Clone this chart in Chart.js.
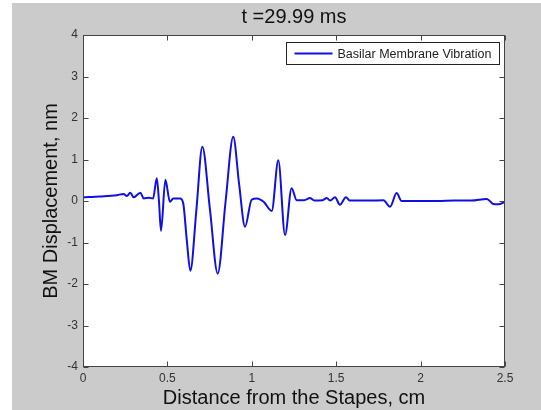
<!DOCTYPE html>
<html>
<head>
<meta charset="utf-8">
<script src="https://cdn.jsdelivr.net/npm/chart.js@4.4.0/dist/chart.umd.min.js"></script>
<style>
html, body { margin: 0; padding: 0; background: #fff; }
#wrap { width: 541px; height: 410px; }
</style>
</head>
<body>
<div id="wrap"><canvas id="bm" width="541" height="410"></canvas></div>
<script>
// values
const distanceCm = [0, 0.1, 0.2, 0.24, 0.26, 0.28, 0.30, 0.34, 0.36, 0.39, 0.415, 0.437, 0.45, 0.462, 0.488, 0.515, 0.535, 0.575, 0.594, 0.615, 0.636, 0.672, 0.707, 0.752, 0.798, 0.845, 0.89, 0.925, 0.96, 0.999, 1.03, 1.07, 1.118, 1.157, 1.197, 1.236, 1.266, 1.31, 1.345, 1.37, 1.42, 1.444, 1.465, 1.493, 1.522, 1.558, 1.58, 1.70, 1.78, 1.819, 1.858, 1.888, 1.92, 2.0, 2.1, 2.2, 2.3, 2.392, 2.43, 2.46, 2.5];
const displacementNm = [0.09, 0.11, 0.14, 0.17, 0.12, 0.20, 0.09, 0.20, 0.06, 0.08, 0.06, 0.55, 0.0, -0.72, 0.51, -0.02, 0.06, 0.06, -0.06, -0.95, -1.68, -0.2, 1.31, -0.2, -1.75, 0.0, 1.55, 0.4, -0.62, 0.03, 0.06, -0.02, -0.24, 0.98, -0.82, 0.31, 0.02, 0.02, 0.07, 0.01, 0.02, 0.07, 0.01, 0.09, -0.09, 0.09, 0.01, 0.01, 0.02, -0.14, 0.19, 0.0, 0.0, 0.0, 0.0, 0.01, 0.01, 0.05, -0.07, -0.08, -0.02];
const xTickValues = [0, 0.5, 1, 1.5, 2, 2.5];
const xTickLabels = ['0', '0.5', '1', '1.5', '2', '2.5'];
const yTickValues = [-4, -3, -2, -1, 0, 1, 2, 3, 4];
const yTickLabels = ['-4', '-3', '-2', '-1', '0', '1', '2', '3', '4'];
const seriesName = 'Basilar Membrane Vibration';
const chartTitle = 't =29.99 ms';

const FONT = "'Liberation Sans', Arial, sans-serif";
const lineColor = '#1010e6';

const frame = {
    id: 'frame',
    beforeDraw(chart) {
        const { ctx, width, height, chartArea: a } = chart;
        ctx.save();
        ctx.fillStyle = '#fff';
        ctx.fillRect(0, 0, width, height);
        ctx.fillStyle = '#cbcbcb';
        ctx.fillRect(12, 3, width - 12, height - 3);
        ctx.fillStyle = '#fff';
        ctx.fillRect(a.left, a.top, a.right - a.left, a.bottom - a.top);
        ctx.restore();
    },
    afterDraw(chart) {
        const { ctx, chartArea: a, scales } = chart;
        ctx.save();
        // title over the axes centre
        ctx.fillStyle = '#111';
        ctx.font = '20px ' + FONT;
        ctx.textAlign = 'center';
        ctx.textBaseline = 'middle';
        ctx.fillText(chartTitle, (a.left + a.right) / 2, 17);
        ctx.textAlign = 'left';

        ctx.strokeStyle = '#444';
        ctx.lineWidth = 1;
        const L = Math.round(a.left) + 0.5, R = Math.round(a.right) - 0.5;
        const T = Math.round(a.top) + 0.5, B = Math.round(a.bottom) - 0.5;
        ctx.strokeRect(L, T, R - L, B - T);
        ctx.beginPath();
        xTickValues.forEach(v => {
            const px = Math.round(scales.x.getPixelForValue(v)) + 0.5;
            ctx.moveTo(px, B); ctx.lineTo(px, B - 5);
            ctx.moveTo(px, T); ctx.lineTo(px, T + 5);
        });
        yTickValues.forEach(v => {
            const py = Math.round(scales.y.getPixelForValue(v)) + 0.5;
            ctx.moveTo(L, py); ctx.lineTo(L + 5, py);
            ctx.moveTo(R, py); ctx.lineTo(R - 5, py);
        });
        ctx.stroke();

        // legend box, top right inside the axes
        ctx.font = '12.5px ' + FONT;
        const tw = ctx.measureText(seriesName).width;
        const bw = 51 + tw + 8, bh = 22;
        const bx = Math.round(a.right - 6 - bw) + 0.5, by = Math.round(a.top + 7) + 0.5;
        ctx.fillStyle = '#fff';
        ctx.fillRect(bx, by, bw, bh);
        ctx.strokeStyle = '#222';
        ctx.strokeRect(bx, by, bw, bh);
        ctx.strokeStyle = lineColor;
        ctx.lineWidth = 2;
        ctx.beginPath();
        ctx.moveTo(bx + 8, by + bh / 2); ctx.lineTo(bx + 46, by + bh / 2);
        ctx.stroke();
        ctx.fillStyle = '#222';
        ctx.textBaseline = 'middle';
        ctx.fillText(seriesName, bx + 51, by + bh / 2 + 1);
        ctx.restore();
    }
};

new Chart(document.getElementById('bm'), {
    type: 'line',
    data: {
        datasets: [{
            label: seriesName,
            data: distanceCm.map((x, i) => ({ x: x, y: displacementNm[i] })),
            borderColor: lineColor,
            borderWidth: 2,
            pointRadius: 0,
            cubicInterpolationMode: 'monotone',
            fill: false
        }]
    },
    options: {
        responsive: false,
        animation: false,
        layout: { padding: { left: 0, right: 36, top: 35, bottom: 0 } },
        plugins: {
            legend: { display: false },
            tooltip: { enabled: false },
            title: { display: false }
        },
        scales: {
            x: {
                type: 'linear',
                min: 0, max: 2.5,
                afterBuildTicks: s => { s.ticks = xTickValues.map(v => ({ value: v })); },
                afterFit: s => { s.height = 43; },
                grid: { display: false, drawTicks: false },
                border: { display: false },
                ticks: {
                    padding: 4,
                    color: '#333',
                    font: { family: FONT, size: 12 },
                    maxRotation: 0,
                    callback: v => xTickLabels[xTickValues.indexOf(v)]
                },
                title: {
                    display: true,
                    text: 'Distance from the Stapes, cm',
                    color: '#111',
                    font: { family: FONT, size: 20, lineHeight: 1.2 },
                    padding: { top: 0, bottom: 0 }
                }
            },
            y: {
                type: 'linear',
                min: -4, max: 4,
                afterBuildTicks: s => { s.ticks = yTickValues.map(v => ({ value: v })); },
                afterFit: s => { s.width = 83; },
                grid: { display: false, drawTicks: false },
                border: { display: false },
                ticks: {
                    padding: 5,
                    color: '#333',
                    font: { family: FONT, size: 12 },
                    callback: v => yTickLabels[yTickValues.indexOf(v)]
                },
                title: {
                    display: true,
                    text: 'BM Displacement, nm',
                    color: '#111',
                    font: { family: FONT, size: 20, lineHeight: 1.2 },
                    padding: { top: 39, bottom: 0 }
                }
            }
        }
    },
    plugins: [frame]
});
</script>
</body>
</html>
